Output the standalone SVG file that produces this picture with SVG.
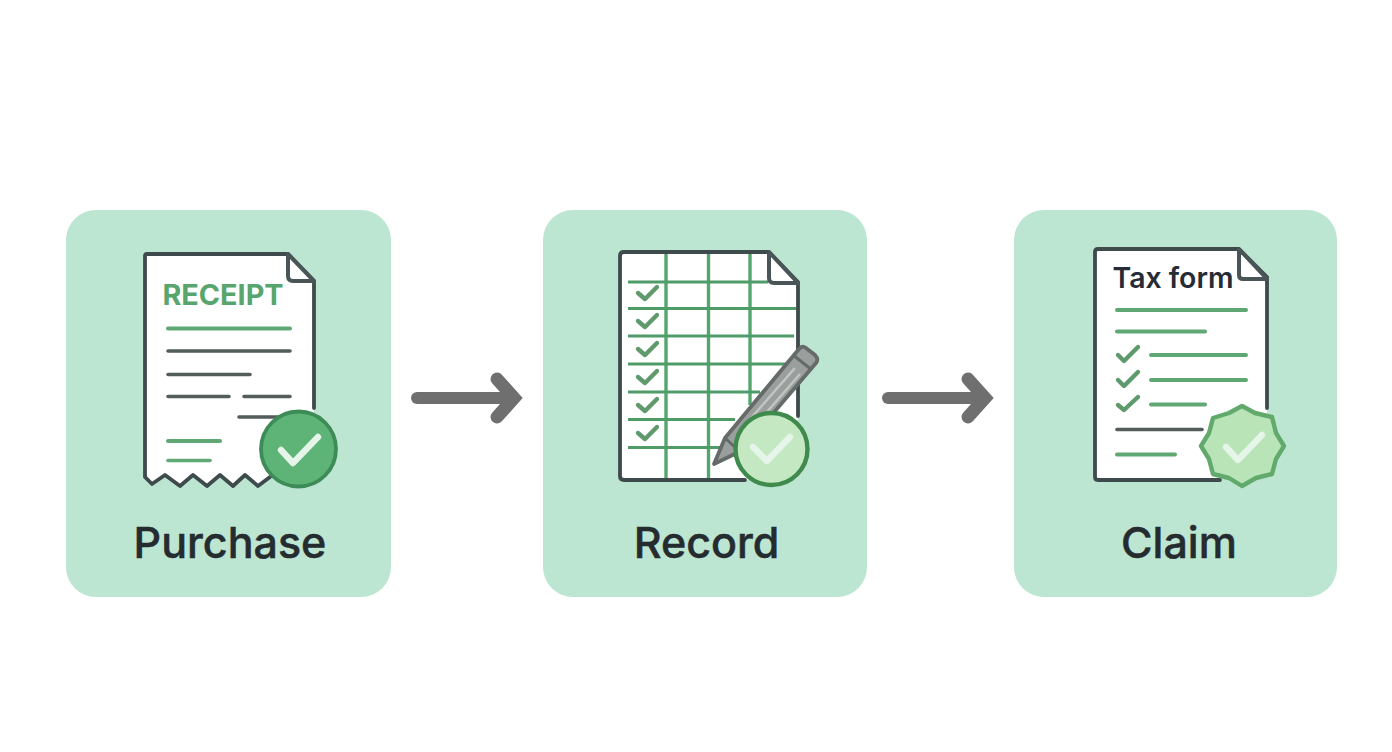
<svg xmlns="http://www.w3.org/2000/svg" width="1392" height="752" viewBox="0 0 1392 752">
<style>
.card{fill:#bde6d2}
.page{fill:#fff;stroke:none}
.doc{fill:none;stroke:#3f4a4c;stroke-width:3.8;stroke-linejoin:round;stroke-linecap:round}
.fold{fill:#fff;stroke:#4a5557;stroke-width:4;stroke-linejoin:round}
.g{stroke:#5fa873;stroke-width:4;stroke-linecap:round;fill:none}
.d{stroke:#535e5c;stroke-width:3.6;stroke-linecap:round;fill:none}
.gridv{stroke:#55a56f;stroke-width:3.4;fill:none}
.gridh{stroke:#4f9c69;stroke-width:2.8;fill:none}
.chk{stroke:#5f9a6c;stroke-width:4.4;stroke-linecap:round;stroke-linejoin:round;fill:none}
.wchk{stroke:#e6f5e9;stroke-width:6.4;stroke-linecap:round;stroke-linejoin:round;fill:none}
.lbl{font-family:Inter,"Liberation Sans",sans-serif;font-size:43px;font-weight:500;stroke:#252c30;stroke-width:0.5;fill:#252c30;text-anchor:middle}
.arrow{stroke:#6f6f6f;stroke-width:12;stroke-linecap:round;fill:none}
.head{stroke:#6f6f6f;stroke-width:13;stroke-linejoin:miter;stroke-miterlimit:4;stroke-linecap:round;fill:none}
</style>
<rect width="1392" height="752" fill="#fff"/>
<g id="node-purchase">
<rect class="card" x="66" y="210" width="325" height="387" rx="30"/>
<path class="page" d="M145 254H288L314 281V440H270V478L258 486 245 475 233 486 220 475 207 486 193 475 180 486 165 475 152 484 145 477Z"/>
<path class="doc" d="M314 408V281L288 254H147Q145 254 145 256V477L152 484 165 475 180 486 193 475 207 486 220 475 233 486 245 475 258 486 270 477"/>
<path class="fold" d="M288 254V276Q288 281 293 281H314Z"/>
<text x="223" y="305" font-family="Inter,'Liberation Sans',sans-serif" font-size="28.800" font-weight="700" fill="#58a56e" text-anchor="middle">RECEIPT</text>
<path class="g" d="M168 328.500H290"/>
<path class="d" d="M168 351H290M168 374.500H250M168 396.500H229M244 396.500H290M239 417H290"/>
<path class="g" d="M168 441H220"/>
<path class="g" style="stroke-width:3.600" d="M168 460.500H210"/>
<circle cx="298.500" cy="449" r="37.500" fill="#5eb377" stroke="#3d8c57" stroke-width="3.800"/>
<path class="wchk" d="M281 450L293 463 318 437"/>
<text class="lbl" x="230" y="558">Purchase</text>
</g>
<g id="node-record">
<rect class="card" x="543" y="210" width="324" height="387" rx="30"/>
<path class="page" d="M620 256Q620 252 624 252H769L798 282V420H760V480H624Q620 480 620 476Z"/>
<path class="gridv" d="M666 253V478M708.500 253V478M750 253V405"/>
<path class="gridh" d="M628 282H768M628 308.500H796M628 336H794M628 364H790M628 392H760M628 419.500H735M628 447.500H722"/>
<path class="doc" d="M798 416V282L769 252H624Q620 252 620 256V476Q620 480 624 480H745"/>
<path class="fold" d="M769 252V278Q769 283 774 283H798Z"/>
<path class="chk" d="M638 293L645 299 657 287M638 321L645 327 657 315M638 349L645 355 657 343M638 377L645 383 657 371M638 405L645 411 657 399M638 433L645 439 657 427"/>
<path d="M725 438L799 349Q802 345 806 348L815 355Q819 359 816 363L741 451 714 464Z" fill="#9a9e9c" stroke="#646b69" stroke-width="3.800" stroke-linejoin="round"/>
<path d="M793 355L812 370M725 438L737 449" stroke="#646b69" stroke-width="3" fill="none"/>
<path d="M745 425L795 368M753 428L800 374" stroke="#c2c5c3" stroke-width="2.500" fill="none"/>
<circle cx="771.500" cy="449" r="36" fill="#c4e9c2" stroke="#3f8a4c" stroke-width="4.400"/>
<path class="wchk" d="M753 447L767 461 790 437"/>
<text class="lbl" x="706.500" y="558">Record</text>
</g>
<g id="node-claim">
<rect class="card" x="1014" y="210" width="323" height="387" rx="30"/>
<path class="page" d="M1095 252Q1095 249 1098 249H1239L1267 277V420H1220V480H1098Q1095 480 1095 477Z"/>
<path class="doc" d="M1267 408V277L1239 249H1098Q1095 249 1095 252V477Q1095 480 1098 480H1220"/>
<path class="fold" d="M1239 249V275Q1239 279 1243 279H1267Z"/>
<text x="1173" y="288" font-family="Inter,'Liberation Sans',sans-serif" font-size="28.400" font-weight="600" fill="#252c36" text-anchor="middle">Tax form</text>
<path class="g" d="M1117 310H1246M1117 331.500H1205M1151 355H1246M1151 380H1246M1151 404.500H1205M1117 454.500H1175"/>
<path class="d" d="M1117 429.500H1202"/>
<path class="chk" d="M1118 355L1124 361 1138 347M1118 380L1124 386 1138 372M1118 405L1124 410 1138 397"/>
<path d="M1242 406L1255 413 1272 417 1276 433 1284 446 1276 459 1272 474 1256 478 1242 486 1229 478 1213 474 1209 459 1201 446 1209 433 1213 418 1229 413Z" fill="#b9e4b8" stroke="#62a96c" stroke-width="4.400" stroke-linejoin="round"/>
<path class="wchk" d="M1226 447L1238 460 1262 435"/>
<text class="lbl" x="1179" y="558">Claim</text>
</g>
<g id="connectors">
<path class="arrow" d="M417 398H512"/>
<path class="head" d="M497 379L514 398 497 417"/>
<path class="arrow" d="M888 398H983"/>
<path class="head" d="M968 379L985 398 968 417"/>
</g>
</svg>
